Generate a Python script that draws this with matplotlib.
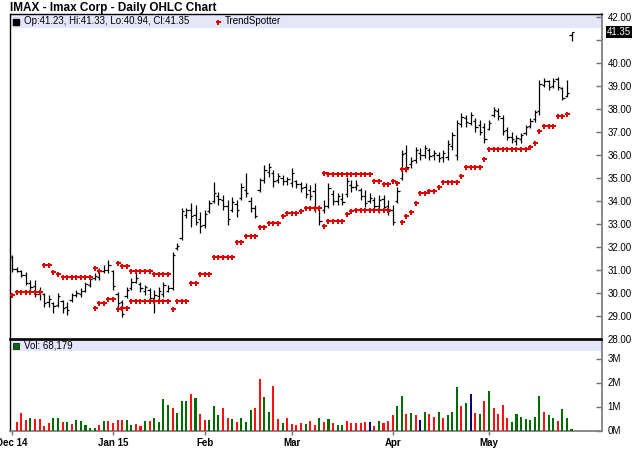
import numpy as np
import pandas as pd
import matplotlib
matplotlib.use("Agg")
import matplotlib.pyplot as plt
import matplotlib.transforms as mtransforms
from matplotlib.patches import Rectangle

plt.rcParams['font.family'] = ['Liberation Sans', 'DejaVu Sans']

# ---------------- data ----------------
title = "IMAX - Imax Corp - Daily OHLC Chart"
holidays = ['2014-12-25', '2015-01-01', '2015-01-19', '2015-02-16', '2015-04-03', '2015-05-25']
dates = pd.bdate_range('2014-12-01', '2015-05-28', freq='C', holidays=holidays)
month_labels = ['Dec 14', 'Jan 15', 'Feb', 'Mar', 'Apr', 'May']

opens = [31.55, 31.05, 30.95, 30.80, 30.45, 30.30, 29.95, 29.95, 29.60, 29.55,
         29.50, 29.65, 29.40, 29.70, 29.90, 29.95, 30.10, 30.35, 30.65, 30.70,
         30.95, 31.00, 30.95, 29.95, 29.60, 29.85, 30.20, 30.50, 30.40, 30.10,
         30.15, 29.80, 29.85, 29.95, 30.10, 30.20, 31.95, 32.40, 33.40, 33.60,
         33.40, 33.20, 32.95, 33.55, 34.00, 34.20, 34.05, 33.80, 33.60, 33.85,
         34.15, 34.50, 34.00, 33.70, 34.50, 34.90, 35.25, 35.20, 34.90, 35.00,
         34.85, 34.80, 34.85, 34.75, 34.60, 34.50, 34.45, 33.70, 33.60, 33.80,
         34.30, 34.00, 34.10, 34.30, 34.70, 34.60, 34.50, 34.20, 34.00, 34.05,
         33.80, 34.10, 33.80, 33.60, 34.00, 35.00, 36.10, 35.60, 35.80, 36.10,
         36.00, 36.20, 36.00, 36.00, 35.90, 35.90, 36.40, 36.00, 37.35, 37.60,
         37.40, 37.50, 37.30, 37.20, 37.15, 37.75, 37.90, 37.60, 37.10, 36.80,
         36.60, 36.70, 36.95, 37.25, 37.55, 37.90, 39.05, 39.20, 39.00, 39.30,
         38.90, 38.55, 41.23]
highs = [31.65, 31.13, 31.00, 30.91, 30.57, 30.57, 30.26, 30.00, 29.91, 29.61,
         30.00, 29.70, 29.61, 30.00, 30.13, 30.22, 30.48, 30.70, 30.87, 31.09,
         31.22, 31.43, 31.00, 30.04, 29.70, 30.26, 30.65, 30.91, 30.48, 30.35,
         30.22, 30.13, 30.26, 30.48, 30.35, 31.78, 32.17, 33.70, 33.70, 33.91,
         33.83, 33.52, 33.61, 34.04, 34.83, 34.39, 34.26, 34.04, 34.17, 34.04,
         34.78, 35.22, 34.17, 33.83, 35.00, 35.57, 35.65, 35.35, 35.22, 35.13,
         35.04, 35.43, 34.91, 34.83, 34.78, 34.70, 34.78, 33.83, 34.04, 34.78,
         34.48, 34.35, 34.35, 35.04, 34.91, 34.91, 34.57, 34.48, 34.35, 34.17,
         34.26, 34.26, 34.04, 33.83, 34.61, 36.22, 36.43, 35.91, 36.35, 36.30,
         36.43, 36.30, 36.22, 36.13, 36.22, 36.65, 37.00, 37.52, 37.83, 37.74,
         37.87, 37.61, 37.52, 37.39, 37.52, 38.09, 38.04, 37.74, 37.22, 37.00,
         36.87, 36.96, 37.30, 37.61, 37.96, 39.26, 39.35, 39.26, 39.35, 39.39,
         38.96, 39.26, 41.33]
lows = [30.91, 30.91, 30.70, 30.35, 30.13, 29.83, 29.70, 29.39, 29.39, 29.13,
        29.39, 29.13, 29.04, 29.61, 29.83, 29.83, 30.04, 30.26, 30.57, 30.57,
        30.87, 30.87, 30.13, 29.35, 28.96, 29.78, 30.13, 30.43, 30.04, 29.91,
        29.61, 29.13, 29.70, 29.83, 30.04, 30.13, 31.87, 32.30, 33.26, 32.87,
        32.96, 32.61, 32.83, 33.48, 33.91, 33.83, 33.61, 32.96, 33.52, 33.30,
        34.04, 34.17, 33.52, 33.26, 34.39, 34.78, 35.04, 34.61, 34.78, 34.70,
        34.70, 34.61, 34.57, 34.39, 34.13, 34.04, 33.52, 32.96, 33.48, 33.70,
        33.83, 33.83, 33.83, 34.17, 34.39, 34.48, 34.04, 33.74, 33.91, 33.61,
        33.48, 33.61, 33.39, 32.96, 33.91, 34.91, 35.26, 35.43, 35.65, 35.78,
        35.87, 35.78, 35.78, 35.70, 35.70, 35.78, 36.22, 35.78, 37.22, 37.22,
        37.30, 37.00, 36.87, 36.52, 37.09, 37.65, 37.52, 36.87, 36.65, 36.52,
        36.43, 36.52, 36.87, 37.17, 37.43, 37.74, 38.96, 38.83, 38.91, 38.83,
        38.39, 38.52, 40.94]
closes = [31.05, 30.95, 30.80, 30.45, 30.25, 29.95, 30.05, 29.55, 29.75, 29.45,
          29.85, 29.35, 29.25, 29.90, 30.00, 30.10, 30.40, 30.60, 30.75, 30.95,
          31.00, 31.20, 30.30, 29.55, 29.10, 30.15, 30.50, 30.65, 30.20, 30.25,
          29.80, 29.90, 30.10, 30.35, 30.20, 31.65, 32.05, 33.55, 33.60, 33.35,
          33.10, 32.90, 33.45, 33.90, 34.35, 34.10, 33.80, 33.20, 33.95, 33.60,
          34.60, 34.35, 33.70, 33.35, 34.90, 35.35, 35.50, 34.85, 35.10, 34.85,
          34.95, 35.20, 34.75, 34.55, 34.30, 34.20, 33.70, 33.15, 33.80, 34.55,
          34.00, 34.20, 33.95, 34.85, 34.60, 34.70, 34.20, 33.90, 34.15, 33.80,
          34.05, 33.75, 33.55, 33.10, 34.45, 36.05, 35.50, 35.75, 36.20, 36.00,
          36.30, 35.95, 36.10, 35.85, 36.10, 36.50, 36.85, 37.40, 37.65, 37.45,
          37.75, 37.20, 37.00, 36.70, 37.40, 37.95, 37.70, 37.05, 36.80, 36.70,
          36.75, 36.85, 37.20, 37.50, 37.85, 39.10, 39.20, 38.95, 39.20, 38.95,
          38.50, 38.70, 41.35]

N = None
trend_a = [29.91, 30.04, 30.04, 30.04, 30.04, 30.04, 30.04, 31.22, 31.22, 30.91,
           30.83, 30.70, 30.70, 30.70, 30.70, 30.70, 30.70, 30.70, 31.09, 30.96,
           29.57, 29.74, 29.74, 31.30, 31.17, 31.17, 30.96, 30.96, 30.96, 30.96,
           30.96, 30.83, 30.83, 30.83, 30.83, 29.30, 29.65, 29.65, 29.65, 30.43,
           30.43, 30.83, 30.83, 30.83, 31.57, 31.57, 31.57, 31.57, 31.57, 32.22,
           32.22, 32.46, 32.46, 32.46, 32.87, 32.87, 33.04, 33.04, 33.04, 33.35,
           33.46, 33.46, 33.46, 33.57, 33.70, 33.70, 33.70, 33.70, 35.22, 35.17,
           35.17, 35.17, 35.17, 35.17, 35.17, 35.17, 35.17, 35.17, 35.17, 34.89,
           34.89, 34.74, 34.72, 34.87, 34.80, 35.39, 35.39, 33.52, 33.91, 34.35,
           34.35, 34.43, 34.43, 34.61, 34.83, 34.83, 34.83, 34.83, 35.09, 35.48,
           35.48, 35.48, 35.48, 35.83, 36.26, 36.26, 36.26, 36.26, 36.26, 36.26,
           36.26, 36.26, 36.26, 36.35, 36.52, 37.04, 37.26, 37.26, 37.26, 37.70,
           37.70, 37.78, N]
trend_b = [N, N, N, N, N, N, N, N, N, N,
           N, N, N, N, N, N, N, N, 29.35, 29.57,
           N, N, N, 29.30, 29.35, 29.35, 29.65, 29.65, 29.65, 29.65,
           29.65, 29.65, 29.65, 29.65, 29.65, N, N, N, N, N,
           N, N, N, N, N, N, N, N, N, N,
           N, N, N, N, N, N, N, N, N, N,
           N, N, N, N, N, N, N, N, 32.91, 33.13,
           33.13, 33.13, 33.13, 33.43, 33.57, 33.61, 33.61, 33.61, 33.61, 33.61,
           33.61, 33.61, 33.61, N, N, 33.09, 33.35, N, N, N,
           N, N, N, N, N, N, N, N, N, N,
           N, N, N, N, N, N, N, N, N, N,
           N, N, N, N, N, N, N, N, N, N,
           N, N, N]

volume_m = [0.00, 0.37, 0.74, 0.44, 0.51, 0.47, 0.47, 0.19, 0.33, 0.51,
            0.51, 0.37, 0.36, 0.26, 0.44, 0.40, 0.22, 0.11, 0.11, 0.22,
            0.40, 0.40, 0.33, 0.44, 0.44, 0.44, 0.22, 0.26, 0.19, 0.40,
            0.40, 0.51, 0.37, 1.31, 1.06, 0.92, 0.74, 1.23, 1.23, 1.52,
            1.34, 0.69, 0.44, 0.44, 1.03, 0.65, 0.92, 0.51, 0.47, 0.37,
            0.54, 0.37, 0.85, 0.95, 2.13, 1.38, 0.78, 1.87, 0.47, 0.33,
            0.54, 0.26, 0.25, 0.33, 0.26, 0.40, 0.22, 0.51, 0.37, 0.47,
            0.33, 0.22, 0.22, 0.40, 0.33, 0.33, 0.33, 0.36, 0.36, 0.19,
            0.40, 0.33, 0.40, 0.65, 1.03, 1.44, 0.69, 0.72, 0.65, 0.44,
            0.78, 0.69, 0.58, 0.78, 0.51, 0.65, 0.78, 1.83, 1.03, 1.14,
            1.51, 0.74, 0.69, 1.23, 1.65, 0.92, 0.69, 1.06, 0.51, 0.36,
            0.69, 0.55, 0.47, 0.44, 0.58, 1.45, 0.76, 0.65, 0.54, 0.40,
            0.90, 0.51, 0.07]
# u = up (green), d = down (red), n = unchanged (navy)
vol_dir = ("udddudddduu" "dudu" "uuuudu" "ddddu" "uddudu" "uuudu" "uudu"
           "dduuuddudu" "uuddu" "uddud" "dddudd" "udu"
           "duuddddd" "ndud" "dduudud" "nudd" "udu" "uudu" "ndud"
           "uddd" "duuuuuuu" "duudu" "u")

y_ticks = [28, 29, 30, 31, 32, 33, 34, 35, 36, 37, 38, 39, 40, 41, 42]
vol_ticks = [0, 1, 2, 3]
last_close = 41.35
ohlc_legend = "Op:41.23, Hi:41.33, Lo:40.94, Cl:41.35"
vol_legend = "Vol: 68,179"

# ---------------- drawing ----------------
n = len(dates)
x = np.arange(n)
months = pd.Series(dates.to_period('M'))
month_pos = [int(i) for i in months.drop_duplicates().index]

fig = plt.figure(figsize=(6.4, 4.68), dpi=100)
W, H = 640.0, 468.0
ax = fig.add_axes([10 / W, (H - 339) / H, 592 / W, 325 / H])
axv = fig.add_axes([10 / W, (H - 431) / H, 592 / W, 91 / H])

xlim = (-0.46, 128.65)

# price panel
o = np.array(opens); h = np.array(highs); l = np.array(lows); c = np.array(closes)
ax.vlines(x, l, h, color='black', lw=0.9, zorder=3)
ax.hlines(o, x - 0.5, x, color='black', lw=0.9, zorder=3)
ax.hlines(c, x, x + 0.5, color='black', lw=0.9, zorder=3)

ta = np.array([np.nan if v is None else v for v in trend_a])
tb = np.array([np.nan if v is None else v for v in trend_b])
ax.plot(x, ta, linestyle='none', marker='P', markersize=3.6, color='#e00000',
        markeredgewidth=0, zorder=4)
ax.plot(x, tb, linestyle='none', marker='P', markersize=3.6, color='#e00000',
        markeredgewidth=0, zorder=4)

ax.set_xlim(*xlim)
ax.set_ylim(28.0, 28.0 + 325 / 23.0)
ax.add_patch(Rectangle((0, (339 - 28) / 325.0), 1, 13 / 325.0, transform=ax.transAxes,
                       facecolor='#e6e6fa', edgecolor='none', zorder=1))
ax.yaxis.tick_right()
ax.set_yticks(y_ticks)
ax.set_yticklabels(['' if v == 41 else f'{v:.2f}' for v in y_ticks])
ax.tick_params(axis='y', direction='in', length=4, width=1, color='#707070',
               labelsize=7, pad=4)
ax.set_xticks([])
for s in ['left', 'top']:
    ax.spines[s].set_color('black'); ax.spines[s].set_linewidth(1.0)
ax.spines['bottom'].set_color('black'); ax.spines['bottom'].set_linewidth(1.2)
ax.spines['right'].set_color('#808080'); ax.spines['right'].set_linewidth(1.3)

blend = mtransforms.blended_transform_factory(ax.transAxes, ax.transData)
ax.text(1.0 + 5 / 592.0, last_close, f'{last_close:.2f}', transform=blend,
        ha='left', va='center', color='white', fontsize=7,
        bbox=dict(facecolor='black', edgecolor='none', pad=0.6), zorder=6)

# legend band (price)
yb = (339 - 21.5) / 325.0
ax.plot([(16 - 10) / 592.0], [yb], transform=ax.transAxes, marker='s', markersize=5,
        color='black', clip_on=False, zorder=5)
ax.text((24 - 10) / 592.0, yb, ohlc_legend, transform=ax.transAxes, fontsize=7,
        va='center', ha='left', zorder=5)
ax.plot([(218 - 10) / 592.0], [yb], transform=ax.transAxes, marker='P', markersize=3.6,
        color='#e00000', markeredgewidth=0, clip_on=False, zorder=5)
ax.text((225 - 10) / 592.0, yb, 'TrendSpotter', transform=ax.transAxes, fontsize=7,
        va='center', ha='left', zorder=5)

# volume panel
cmap = {'u': '#006b00', 'd': '#ff1010', 'n': '#000080'}
axv.bar(x, volume_m, width=0.45, color=[cmap[d] for d in vol_dir], zorder=3)
axv.set_xlim(*xlim)
axv.set_ylim((430.5 - 431) / 24.0, (430.5 - 340) / 24.0)
axv.add_patch(Rectangle((0, (431 - 351) / 91.0), 1, 11 / 91.0, transform=axv.transAxes,
                        facecolor='#e6e6fa', edgecolor='none', zorder=1))
axv.yaxis.tick_right()
axv.set_yticks(vol_ticks)
axv.set_yticklabels([f'{v}M' for v in vol_ticks])
axv.tick_params(axis='y', direction='in', length=4, width=1, color='#707070',
                labelsize=7, pad=4)
axv.set_xticks(month_pos)
axv.set_xticklabels(month_labels, fontweight='bold', fontsize=7)
axv.tick_params(axis='x', direction='out', length=3, width=1, color='#707070', pad=2)
axv.spines['left'].set_color('black'); axv.spines['left'].set_linewidth(1.0)
axv.spines['top'].set_color('black'); axv.spines['top'].set_linewidth(1.2)
axv.spines['right'].set_color('#808080'); axv.spines['right'].set_linewidth(1.3)
axv.spines['bottom'].set_color('#808080'); axv.spines['bottom'].set_linewidth(1.3)

yv = (431 - 345.5) / 91.0
axv.plot([(16 - 10) / 592.0], [yv], transform=axv.transAxes, marker='s', markersize=5,
         color='#006b00', markeredgecolor='black', markeredgewidth=0.5, clip_on=False, zorder=5)
axv.text((24 - 10) / 592.0, yv, vol_legend, transform=axv.transAxes, fontsize=7,
         va='center', ha='left', zorder=5)

fig.text(10 / W, 1 - 8 / H, title, fontsize=8.5, fontweight='bold', ha='left', va='center')

fig.savefig('out.png', dpi=100)
